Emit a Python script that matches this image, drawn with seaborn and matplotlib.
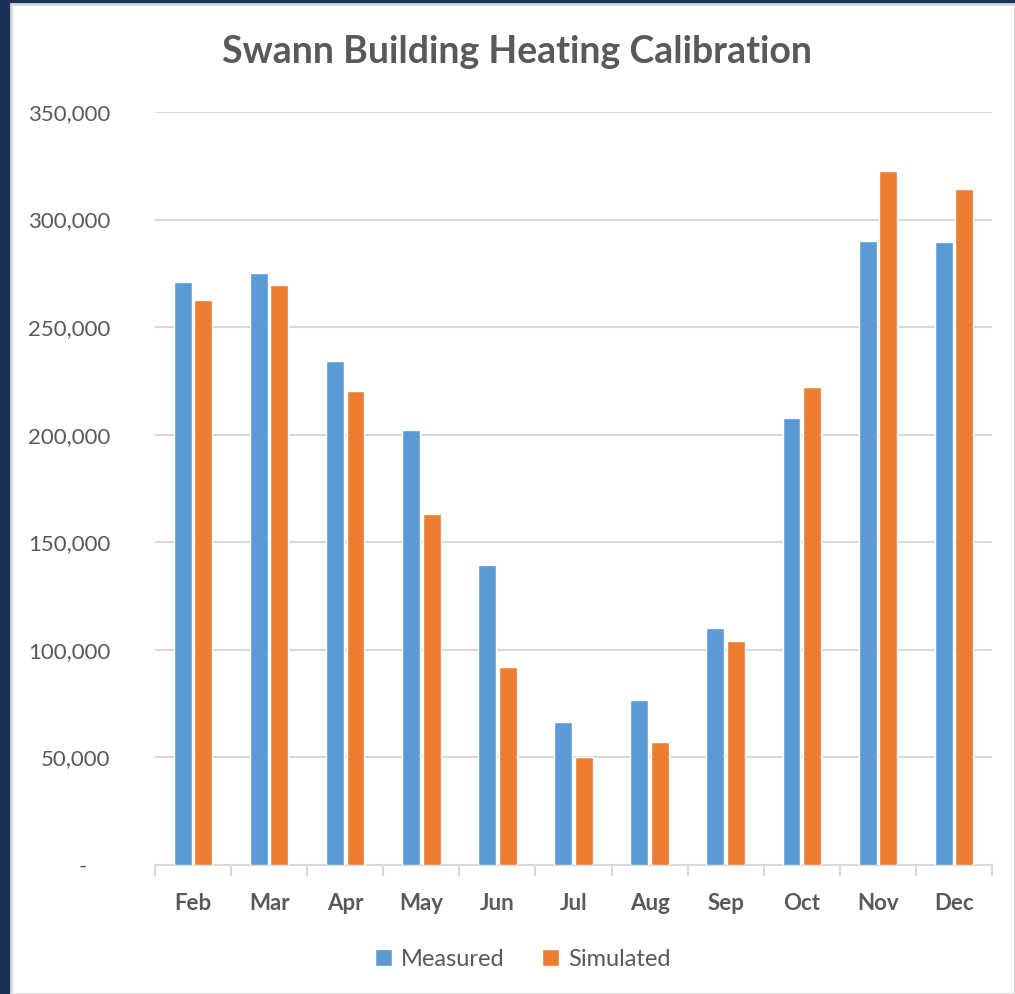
import pandas as pd
import seaborn as sns
import matplotlib.pyplot as plt
from matplotlib.patches import Rectangle
from matplotlib.ticker import FuncFormatter

# data
months = ['Feb', 'Mar', 'Apr', 'May', 'Jun', 'Jul', 'Aug', 'Sep', 'Oct', 'Nov', 'Dec']
measured = [270800, 275000, 234200, 202200, 139400, 66400, 76600, 110000, 207600, 290000, 289500]
simulated = [262500, 269500, 220200, 163000, 92000, 50200, 57000, 104000, 222000, 322500, 314000]
series = ['Measured', 'Simulated']
colors = ['#5b9bd5', '#ed7d31']

df = pd.DataFrame({
    'Month': months * 2,
    'Value': measured + simulated,
    'Series': ['Measured'] * len(months) + ['Simulated'] * len(months),
})

sns.set_style('white')
plt.rcParams['font.family'] = ['Lato', 'DejaVu Sans']

fig = plt.figure(figsize=(10.15, 9.94), dpi=100)
fig.patch.set_facecolor('#1b3157')
# white chart area inside the dark frame
fig.patches.append(Rectangle((11 / 1015, 0), 1 - 11 / 1015, 1 - 4 / 994,
                             transform=fig.transFigure, facecolor='white',
                             edgecolor='#d9d9d9', linewidth=2, zorder=-5))

ax = fig.add_axes([155 / 1015, 1 - 865 / 994, (992 - 155) / 1015, (865 - 112) / 994])
ax.set_facecolor('none')

sns.barplot(data=df, x='Month', y='Value', hue='Series', order=months,
            hue_order=series, palette=colors, width=0.54, gap=0.13,
            saturation=1, ax=ax, zorder=3)

ax.set_ylim(0, 350000)
ax.set_xlim(-0.5, len(months) - 0.5)
ax.set_yticks(range(0, 350001, 50000))
ax.yaxis.set_major_formatter(FuncFormatter(lambda v, p: f'{v:,.0f}' if v else '-    '))
ax.grid(axis='y', color='#d9d9d9', linewidth=1.5, zorder=0)
ax.set_axisbelow(True)

for s in ['top', 'right', 'left']:
    ax.spines[s].set_visible(False)
ax.spines['bottom'].set_color('#d9d9d9')
ax.spines['bottom'].set_linewidth(1.5)

ax.tick_params(axis='y', length=0, pad=32, labelsize=16, labelcolor='#595959')
ax.tick_params(axis='x', length=0, pad=20, labelsize=16, labelcolor='#595959')
for lab in ax.get_xticklabels():
    lab.set_fontweight('bold')
# Excel-style tick marks between categories
ax.set_xticks([i - 0.5 for i in range(len(months) + 1)], minor=True)
ax.tick_params(axis='x', which='minor', bottom=True, direction='out',
               length=8, width=1.5, color='#d9d9d9')

ax.set_xlabel('')
ax.set_ylabel('')

fig.text(517 / 1015, 1 - 52 / 994, 'Swann Building Heating Calibration',
         ha='center', va='center', fontsize=27, fontweight='bold', color='#595959')

handles, labels = ax.get_legend_handles_labels()
ax.legend_.remove()
fig.legend(handles, labels, loc='center', bbox_to_anchor=(523 / 1015, 1 - 959 / 994),
           ncol=2, frameon=False, fontsize=17, labelcolor='#595959',
           handlelength=0.7, handleheight=0.7, handletextpad=0.4, columnspacing=1.6)

plt.savefig('out.png', dpi=100, facecolor=fig.get_facecolor())
